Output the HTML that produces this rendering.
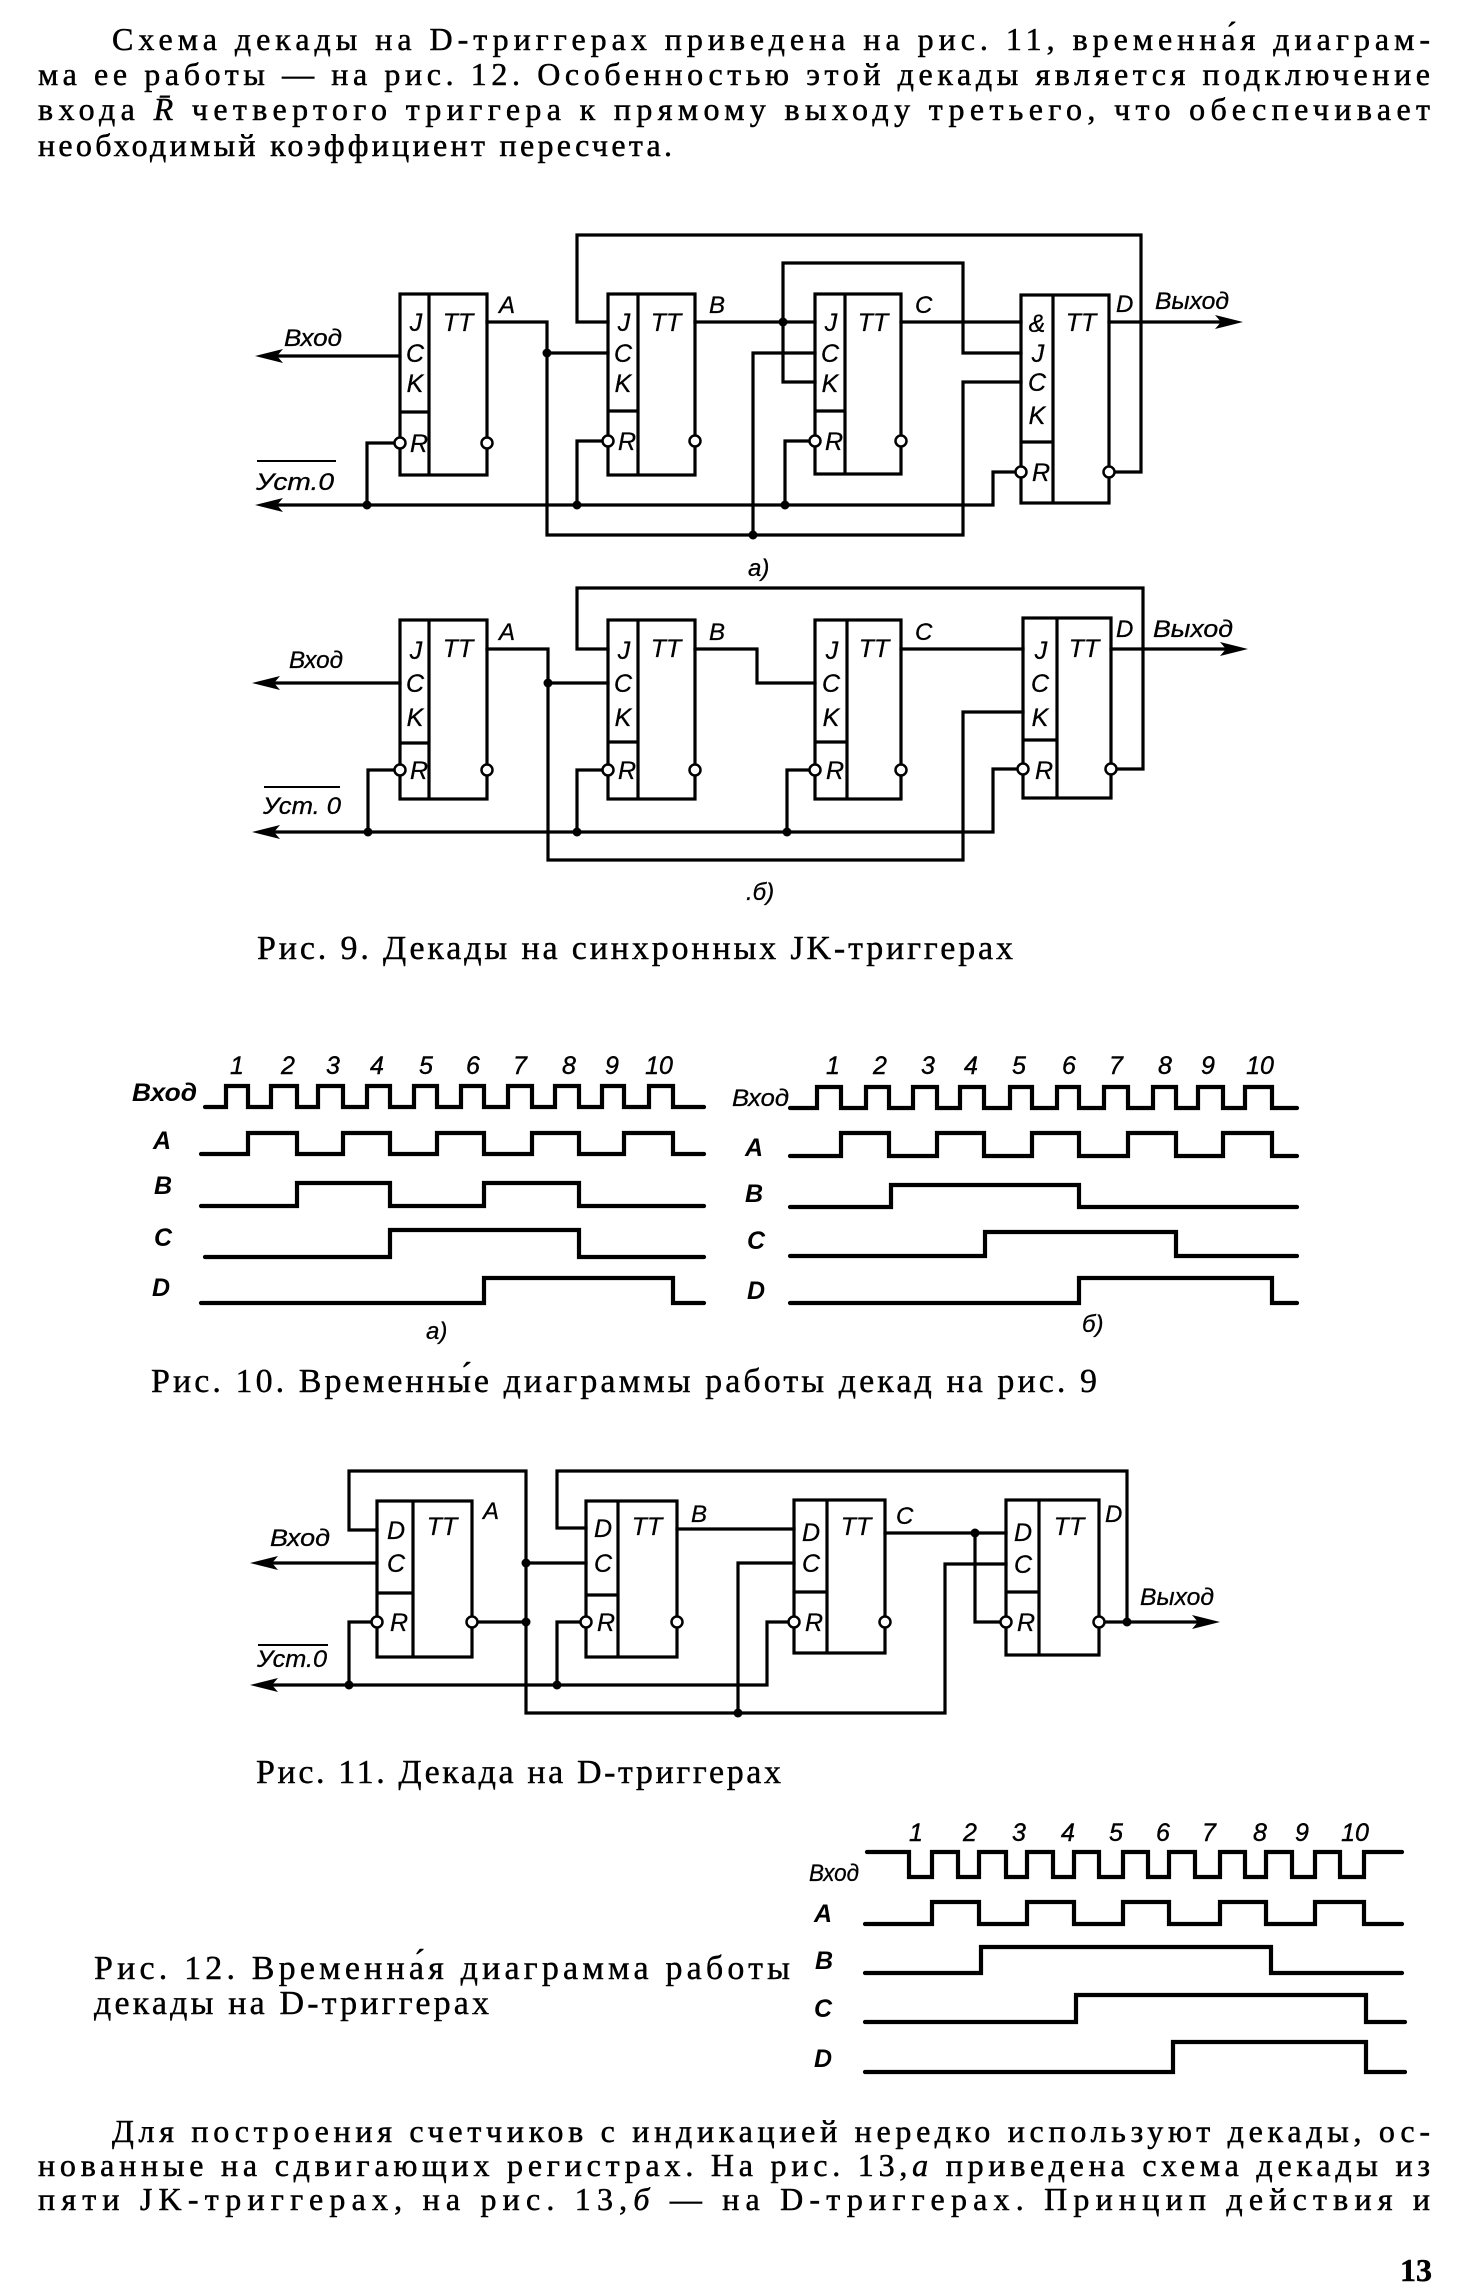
<!DOCTYPE html>
<html><head><meta charset="utf-8">
<style>
html,body{margin:0;padding:0;background:#fff;}
svg{display:block;}
.t{font-family:"Liberation Serif","Noto Serif CJK SC",serif;font-size:32px;fill:#000;stroke:#000;stroke-width:0.5px;}
.c{font-family:"Liberation Serif","Noto Serif CJK SC",serif;font-size:34px;fill:#000;stroke:#000;stroke-width:0.4px;}
.l{font-family:"Liberation Sans",sans-serif;font-style:italic;font-size:24px;fill:#000;stroke:#000;stroke-width:0.3px;}
.bl{font-family:"Liberation Sans",sans-serif;font-style:italic;font-size:25px;fill:#000;text-anchor:middle;stroke:#000;stroke-width:0.3px;}
.wl{font-family:"Liberation Sans",sans-serif;font-style:italic;font-weight:bold;font-size:25px;fill:#000;}
.n{font-family:"Liberation Sans",sans-serif;font-style:italic;font-size:25px;fill:#000;text-anchor:middle;stroke:#000;stroke-width:0.4px;}
.w{fill:none;stroke:#000;stroke-width:3.2;stroke-linejoin:miter;stroke-linecap:square;}
.wv{fill:none;stroke:#000;stroke-width:4.2;stroke-linejoin:miter;stroke-linecap:round;}
.b{fill:none;stroke:#000;stroke-width:3.2;}
.bub{fill:#fff;stroke:#000;stroke-width:2.5;}
</style></head>
<body>
<svg width="1466" height="2292" viewBox="0 0 1466 2292" xmlns="http://www.w3.org/2000/svg">
<rect width="1466" height="2292" fill="#fff"/>

<!-- top paragraph -->
<text class="t" x="112" y="50" textLength="1318" lengthAdjust="spacing">Схема декады на D-триггерах приведена на рис. 11, временна́я диаграм-</text>
<text class="t" x="38" y="85" textLength="1392" lengthAdjust="spacing">ма ее работы — на рис. 12. Особенностью этой декады является подключение</text>
<text class="t" x="38" y="120" textLength="1392" lengthAdjust="spacing">входа <tspan font-style="italic">R̄</tspan> четвертого триггера к прямому выходу третьего, что обеспечивает</text>
<text class="t" x="38" y="156" textLength="634" lengthAdjust="spacing">необходимый коэффициент пересчета.</text>

<!-- ================= Fig 9a ================= -->
<g>
<rect class="b" x="400" y="294" width="87" height="181"/>
<line class="b" x1="429" y1="294" x2="429" y2="475"/><line class="b" x1="400" y1="412" x2="429" y2="412"/>
<rect class="b" x="608" y="294" width="87" height="181"/>
<line class="b" x1="638" y1="294" x2="638" y2="475"/><line class="b" x1="608" y1="411" x2="638" y2="411"/>
<rect class="b" x="815" y="294" width="86" height="180"/>
<line class="b" x1="845" y1="294" x2="845" y2="474"/><line class="b" x1="815" y1="411" x2="845" y2="411"/>
<rect class="b" x="1021" y="295" width="88" height="208"/>
<line class="b" x1="1053" y1="295" x2="1053" y2="503"/><line class="b" x1="1021" y1="442" x2="1053" y2="442"/>
<text class="bl" x="416" y="331">J</text><text class="bl" x="415" y="362">C</text><text class="bl" x="415" y="392">K</text><text class="bl" x="419" y="452">R</text><text class="bl" x="458" y="331">TT</text>
<text class="bl" x="624" y="331">J</text><text class="bl" x="623" y="362">C</text><text class="bl" x="623" y="392">K</text><text class="bl" x="627" y="450">R</text><text class="bl" x="666" y="331">TT</text>
<text class="bl" x="831" y="331">J</text><text class="bl" x="830" y="362">C</text><text class="bl" x="830" y="392">K</text><text class="bl" x="834" y="450">R</text><text class="bl" x="873" y="331">TT</text>
<text class="bl" x="1037" y="332">&amp;</text><text class="bl" x="1038" y="362">J</text><text class="bl" x="1037" y="391">C</text><text class="bl" x="1037" y="424">K</text><text class="bl" x="1041" y="481">R</text><text class="bl" x="1081" y="331">TT</text>
<path class="w" d="M400,356 H275"/>
<path class="w" d="M487,322 H547 V535 H963 V382 H1021"/>
<path class="w" d="M547,353 H608"/>
<path class="w" d="M753,353 V535 M753,353 H815"/>
<path class="w" d="M608,322 H577 V235 H1141 V472 H1116"/>
<path class="w" d="M695,322 H815"/>
<path class="w" d="M783,322 V263 H963 V353 H1021"/>
<path class="w" d="M783,322 V382 H815"/>
<path class="w" d="M901,322 H1021"/>
<path class="w" d="M1109,322 H1225"/>
<path class="w" d="M275,505 H993 V472 H1015"/>
<path class="w" d="M367,505 V443 H394 M577,505 V441 H602 M785,505 V441 H809"/>
<polygon points="255,356 283,349 277,356 283,363" fill="#000"/>
<polygon points="255,505 283,498 277,505 283,512" fill="#000"/>
<polygon points="1243,322 1215,315 1221,322 1215,329" fill="#000"/>
<circle cx="547" cy="353" r="4.5"/><circle cx="753" cy="535" r="4.5"/><circle cx="783" cy="322" r="4.5"/>
<circle cx="367" cy="505" r="4.5"/><circle cx="577" cy="505" r="4.5"/><circle cx="785" cy="505" r="4.5"/>
<circle class="bub" cx="400" cy="443" r="5.5"/><circle class="bub" cx="487" cy="443" r="5.5"/>
<circle class="bub" cx="608" cy="441" r="5.5"/><circle class="bub" cx="695" cy="441" r="5.5"/>
<circle class="bub" cx="815" cy="441" r="5.5"/><circle class="bub" cx="901" cy="441" r="5.5"/>
<circle class="bub" cx="1021" cy="472" r="5.5"/><circle class="bub" cx="1109" cy="472" r="5.5"/>
<text class="l" x="284" y="346" textLength="58" lengthAdjust="spacingAndGlyphs">Вход</text>
<text class="l" x="256" y="490" textLength="78" lengthAdjust="spacingAndGlyphs">Уст.0</text>
<line x1="257" y1="461" x2="336" y2="461" stroke="#000" stroke-width="2"/>
<text class="l" x="1155" y="309" textLength="74" lengthAdjust="spacingAndGlyphs">Выход</text>
<text class="l" x="499" y="313">A</text><text class="l" x="709" y="313">B</text><text class="l" x="915" y="313">C</text><text class="l" x="1116" y="312">D</text>
<text class="l" x="748" y="576">a)</text>
</g>

<!-- ================= Fig 9b ================= -->
<g>
<rect class="b" x="400" y="620" width="87" height="179"/>
<line class="b" x1="429" y1="620" x2="429" y2="799"/><line class="b" x1="400" y1="743" x2="429" y2="743"/>
<rect class="b" x="608" y="620" width="87" height="179"/>
<line class="b" x1="638" y1="620" x2="638" y2="799"/><line class="b" x1="608" y1="742" x2="638" y2="742"/>
<rect class="b" x="815" y="620" width="86" height="179"/>
<line class="b" x1="847" y1="620" x2="847" y2="799"/><line class="b" x1="815" y1="742" x2="847" y2="742"/>
<rect class="b" x="1023" y="618" width="88" height="180"/>
<line class="b" x1="1057" y1="618" x2="1057" y2="798"/><line class="b" x1="1023" y1="740" x2="1057" y2="740"/>
<text class="bl" x="416" y="659">J</text><text class="bl" x="415" y="692">C</text><text class="bl" x="415" y="726">K</text><text class="bl" x="419" y="779">R</text><text class="bl" x="458" y="657">TT</text>
<text class="bl" x="624" y="659">J</text><text class="bl" x="623" y="692">C</text><text class="bl" x="623" y="726">K</text><text class="bl" x="627" y="779">R</text><text class="bl" x="666" y="657">TT</text>
<text class="bl" x="832" y="659">J</text><text class="bl" x="831" y="692">C</text><text class="bl" x="831" y="726">K</text><text class="bl" x="835" y="779">R</text><text class="bl" x="874" y="657">TT</text>
<text class="bl" x="1041" y="659">J</text><text class="bl" x="1040" y="692">C</text><text class="bl" x="1040" y="726">K</text><text class="bl" x="1044" y="779">R</text><text class="bl" x="1084" y="657">TT</text>
<path class="w" d="M400,683 H271"/>
<path class="w" d="M487,649 H548 V860 H963 V712 H1023"/>
<path class="w" d="M548,683 H608"/>
<path class="w" d="M608,649 H577 V588 H1143 V769 H1116"/>
<path class="w" d="M695,649 H757 V683 H815"/>
<path class="w" d="M901,649 H1023"/>
<path class="w" d="M1111,649 H1228"/>
<path class="w" d="M271,832 H993 V769 H1017"/>
<path class="w" d="M368,832 V770 H394 M577,832 V770 H602 M787,832 V770 H809"/>
<polygon points="252,683 280,676 274,683 280,690" fill="#000"/>
<polygon points="252,832 280,825 274,832 280,839" fill="#000"/>
<polygon points="1248,649 1220,642 1226,649 1220,656" fill="#000"/>
<circle cx="548" cy="683" r="4.5"/><circle cx="368" cy="832" r="4.5"/><circle cx="577" cy="832" r="4.5"/><circle cx="787" cy="832" r="4.5"/>
<circle class="bub" cx="400" cy="770" r="5.5"/><circle class="bub" cx="487" cy="770" r="5.5"/>
<circle class="bub" cx="608" cy="770" r="5.5"/><circle class="bub" cx="695" cy="770" r="5.5"/>
<circle class="bub" cx="815" cy="770" r="5.5"/><circle class="bub" cx="901" cy="770" r="5.5"/>
<circle class="bub" cx="1023" cy="769" r="5.5"/><circle class="bub" cx="1111" cy="769" r="5.5"/>
<text class="l" x="289" y="668" textLength="54" lengthAdjust="spacingAndGlyphs">Вход</text>
<text class="l" x="263" y="814" textLength="78" lengthAdjust="spacingAndGlyphs">Уст. 0</text>
<line x1="264" y1="787" x2="340" y2="787" stroke="#000" stroke-width="2"/>
<text class="l" x="1153" y="637" textLength="80" lengthAdjust="spacingAndGlyphs">Выход</text>
<text class="l" x="499" y="640">A</text><text class="l" x="709" y="640">B</text><text class="l" x="915" y="640">C</text><text class="l" x="1116" y="637">D</text>
<text class="l" x="746" y="900">.б)</text>
</g>
<text class="c" x="257" y="959" textLength="756" lengthAdjust="spacing">Рис. 9. Декады на синхронных JK-триггерах</text>

<!-- ================= Fig 10a ================= -->
<g>
<text class="n" x="237" y="1074">1</text><text class="n" x="288" y="1074">2</text><text class="n" x="333" y="1074">3</text><text class="n" x="377" y="1074">4</text><text class="n" x="426" y="1074">5</text><text class="n" x="473" y="1074">6</text><text class="n" x="520" y="1074">7</text><text class="n" x="569" y="1074">8</text><text class="n" x="612" y="1074">9</text><text class="n" x="659" y="1074">10</text>
<text class="wl" x="132" y="1101" textLength="65" lengthAdjust="spacingAndGlyphs">Вход</text>
<text class="wl" x="153" y="1149">A</text><text class="wl" x="154" y="1194">B</text><text class="wl" x="154" y="1246">C</text><text class="wl" x="152" y="1296">D</text>
<polyline class="wv" points="205,1107 226,1107 226,1086 248,1086 248,1107 271,1107 271,1086 297,1086 297,1107 318,1107 318,1086 343,1086 343,1107 367,1107 367,1086 390,1086 390,1107 414,1107 414,1086 437,1086 437,1107 461,1107 461,1086 484,1086 484,1107 508,1107 508,1086 532,1086 532,1107 555,1107 555,1086 579,1086 579,1107 602,1107 602,1086 624,1086 624,1107 649,1107 649,1086 673,1086 673,1107 704,1107"/>
<polyline class="wv" points="201,1154 248,1154 248,1133 297,1133 297,1154 343,1154 343,1133 390,1133 390,1154 437,1154 437,1133 484,1133 484,1154 532,1154 532,1133 579,1133 579,1154 624,1154 624,1133 673,1133 673,1154 704,1154"/>
<polyline class="wv" points="201,1206 297,1206 297,1183 390,1183 390,1206 484,1206 484,1183 579,1183 579,1206 704,1206"/>
<polyline class="wv" points="205,1257 390,1257 390,1230 579,1230 579,1257 704,1257"/>
<polyline class="wv" points="201,1303 484,1303 484,1278 673,1278 673,1303 704,1303"/>
<text class="l" x="426" y="1339">a)</text>
</g>

<!-- ================= Fig 10b ================= -->
<g>
<text class="n" x="833" y="1074">1</text><text class="n" x="880" y="1074">2</text><text class="n" x="928" y="1074">3</text><text class="n" x="971" y="1074">4</text><text class="n" x="1019" y="1074">5</text><text class="n" x="1069" y="1074">6</text><text class="n" x="1116" y="1074">7</text><text class="n" x="1165" y="1074">8</text><text class="n" x="1208" y="1074">9</text><text class="n" x="1260" y="1074">10</text>
<text class="l" x="732" y="1106" textLength="57" lengthAdjust="spacingAndGlyphs">Вход</text>
<text class="wl" x="745" y="1156">A</text><text class="wl" x="745" y="1202">B</text><text class="wl" x="747" y="1249">C</text><text class="wl" x="747" y="1299">D</text>
<polyline class="wv" points="790,1108 817,1108 817,1087 841,1087 841,1108 866,1108 866,1087 889,1087 889,1108 913,1108 913,1087 937,1087 937,1108 960,1108 960,1087 984,1087 984,1108 1010,1108 1010,1087 1032,1087 1032,1108 1057,1108 1057,1087 1079,1087 1079,1108 1104,1108 1104,1087 1128,1087 1128,1108 1153,1108 1153,1087 1176,1087 1176,1108 1198,1108 1198,1087 1223,1087 1223,1108 1245,1108 1245,1087 1272,1087 1272,1108 1297,1108"/>
<polyline class="wv" points="790,1156 841,1156 841,1133 889,1133 889,1156 937,1156 937,1133 984,1133 984,1156 1032,1156 1032,1133 1079,1133 1079,1156 1128,1156 1128,1133 1176,1133 1176,1156 1223,1156 1223,1133 1272,1133 1272,1156 1297,1156"/>
<polyline class="wv" points="790,1207 891,1207 891,1185 1079,1185 1079,1207 1297,1207"/>
<polyline class="wv" points="790,1256 985,1256 985,1232 1176,1232 1176,1256 1297,1256"/>
<polyline class="wv" points="790,1303 1079,1303 1079,1278 1272,1278 1272,1303 1297,1303"/>
<text class="l" x="1082" y="1332">б)</text>
</g>
<text class="c" x="151" y="1392" textLength="946" lengthAdjust="spacing">Рис. 10. Временны́е диаграммы работы декад на рис. 9</text>

<!-- ================= Fig 11 ================= -->
<g>
<rect class="b" x="377" y="1501" width="95" height="156"/>
<line class="b" x1="413" y1="1501" x2="413" y2="1657"/><line class="b" x1="377" y1="1593" x2="413" y2="1593"/>
<rect class="b" x="586" y="1501" width="91" height="156"/>
<line class="b" x1="618" y1="1501" x2="618" y2="1657"/><line class="b" x1="586" y1="1595" x2="618" y2="1595"/>
<rect class="b" x="794" y="1500" width="91" height="153"/>
<line class="b" x1="827" y1="1500" x2="827" y2="1653"/><line class="b" x1="794" y1="1592" x2="827" y2="1592"/>
<rect class="b" x="1006" y="1500" width="93" height="155"/>
<line class="b" x1="1039" y1="1500" x2="1039" y2="1655"/><line class="b" x1="1006" y1="1592" x2="1039" y2="1592"/>
<text class="bl" x="396" y="1539">D</text><text class="bl" x="396" y="1572">C</text><text class="bl" x="399" y="1631">R</text><text class="bl" x="442" y="1535">TT</text>
<text class="bl" x="603" y="1537">D</text><text class="bl" x="603" y="1572">C</text><text class="bl" x="606" y="1631">R</text><text class="bl" x="647" y="1535">TT</text>
<text class="bl" x="811" y="1541">D</text><text class="bl" x="811" y="1572">C</text><text class="bl" x="814" y="1631">R</text><text class="bl" x="856" y="1535">TT</text>
<text class="bl" x="1023" y="1541">D</text><text class="bl" x="1023" y="1573">C</text><text class="bl" x="1026" y="1631">R</text><text class="bl" x="1069" y="1535">TT</text>
<path class="w" d="M377,1563 H270"/>
<path class="w" d="M377,1530 H349 V1471 H526 V1713 H945 V1564 H1006"/>
<path class="w" d="M477,1622 H526"/>
<path class="w" d="M526,1563 H586"/>
<path class="w" d="M586,1528 H557 V1471 H1127 V1622"/>
<path class="w" d="M1104,1622 H1198"/>
<path class="w" d="M677,1529 H794"/>
<path class="w" d="M738,1563 H794 M738,1563 V1713"/>
<path class="w" d="M885,1533 H1006 M975,1533 V1622 H1001"/>
<path class="w" d="M270,1685 H767 V1622 H789"/>
<path class="w" d="M349,1685 V1622 H372 M557,1685 V1622 H581"/>
<polygon points="250,1563 278,1556 272,1563 278,1570" fill="#000"/>
<polygon points="250,1685 278,1678 272,1685 278,1692" fill="#000"/>
<polygon points="1220,1622 1192,1615 1198,1622 1192,1629" fill="#000"/>
<circle cx="526" cy="1563" r="4.5"/><circle cx="526" cy="1622" r="4.5"/><circle cx="349" cy="1685" r="4.5"/><circle cx="557" cy="1685" r="4.5"/><circle cx="738" cy="1713" r="4.5"/><circle cx="975" cy="1533" r="4.5"/><circle cx="1127" cy="1622" r="4.5"/>
<circle class="bub" cx="377" cy="1622" r="5.5"/><circle class="bub" cx="472" cy="1622" r="5.5"/>
<circle class="bub" cx="586" cy="1622" r="5.5"/><circle class="bub" cx="677" cy="1622" r="5.5"/>
<circle class="bub" cx="794" cy="1622" r="5.5"/><circle class="bub" cx="885" cy="1622" r="5.5"/>
<circle class="bub" cx="1006" cy="1622" r="5.5"/><circle class="bub" cx="1099" cy="1622" r="5.5"/>
<text class="l" x="270" y="1546" textLength="60" lengthAdjust="spacingAndGlyphs">Вход</text>
<text class="l" x="257" y="1667" textLength="70" lengthAdjust="spacingAndGlyphs">Уст.0</text>
<line x1="258" y1="1645" x2="328" y2="1645" stroke="#000" stroke-width="2"/>
<text class="l" x="1140" y="1605" textLength="74" lengthAdjust="spacingAndGlyphs">Выход</text>
<text class="l" x="483" y="1519">A</text><text class="l" x="691" y="1522">B</text><text class="l" x="896" y="1524">C</text><text class="l" x="1105" y="1522">D</text>
</g>
<text class="c" x="256" y="1783" textLength="525" lengthAdjust="spacing">Рис. 11. Декада на D-триггерах</text>

<!-- ================= Fig 12 ================= -->
<g>
<text class="n" x="916" y="1841">1</text><text class="n" x="970" y="1841">2</text><text class="n" x="1019" y="1841">3</text><text class="n" x="1068" y="1841">4</text><text class="n" x="1116" y="1841">5</text><text class="n" x="1163" y="1841">6</text><text class="n" x="1209" y="1841">7</text><text class="n" x="1260" y="1841">8</text><text class="n" x="1302" y="1841">9</text><text class="n" x="1355" y="1841">10</text>
<text class="l" x="809" y="1881" textLength="50" lengthAdjust="spacingAndGlyphs">Вход</text>
<text class="wl" x="814" y="1922">A</text><text class="wl" x="815" y="1969">B</text><text class="wl" x="814" y="2017">C</text><text class="wl" x="814" y="2067">D</text>
<polyline class="wv" points="867,1852 909,1852 909,1877 932,1877 932,1852 958,1852 958,1877 979,1877 979,1852 1006,1852 1006,1877 1027,1877 1027,1852 1053,1852 1053,1877 1074,1877 1074,1852 1099,1852 1099,1877 1123,1877 1123,1852 1148,1852 1148,1877 1169,1877 1169,1852 1195,1852 1195,1877 1220,1877 1220,1852 1245,1852 1245,1877 1266,1877 1266,1852 1292,1852 1292,1877 1315,1877 1315,1852 1340,1852 1340,1877 1364,1877 1364,1852 1402,1852"/>
<polyline class="wv" points="865,1924 932,1924 932,1902 979,1902 979,1924 1027,1924 1027,1902 1074,1902 1074,1924 1123,1924 1123,1902 1169,1902 1169,1924 1220,1924 1220,1902 1266,1902 1266,1924 1315,1924 1315,1902 1364,1902 1364,1924 1402,1924"/>
<polyline class="wv" points="865,1973 981,1973 981,1947 1271,1947 1271,1973 1402,1973"/>
<polyline class="wv" points="865,2022 1076,2022 1076,1995 1366,1995 1366,2022 1405,2022"/>
<polyline class="wv" points="865,2072 1173,2072 1173,2042 1366,2042 1366,2072 1405,2072"/>
</g>
<text class="c" x="94" y="1979" textLength="696" lengthAdjust="spacing">Рис. 12. Временна́я диаграмма работы</text>
<text class="c" x="94" y="2014" textLength="395" lengthAdjust="spacing">декады на D-триггерах</text>

<!-- bottom paragraph -->
<text class="t" x="112" y="2142" textLength="1318" lengthAdjust="spacing">Для построения счетчиков с индикацией нередко используют декады, ос-</text>
<text class="t" x="38" y="2176" textLength="1392" lengthAdjust="spacing">нованные на сдвигающих регистрах. На рис. 13,<tspan font-style="italic">а</tspan> приведена схема декады из</text>
<text class="t" x="38" y="2210" textLength="1392" lengthAdjust="spacing">пяти JK-триггерах, на рис. 13,<tspan font-style="italic">б</tspan> — на D-триггерах. Принцип действия и</text>
<text class="t" x="1400" y="2281" font-weight="bold" font-size="30">13</text>
</svg>
</body></html>
